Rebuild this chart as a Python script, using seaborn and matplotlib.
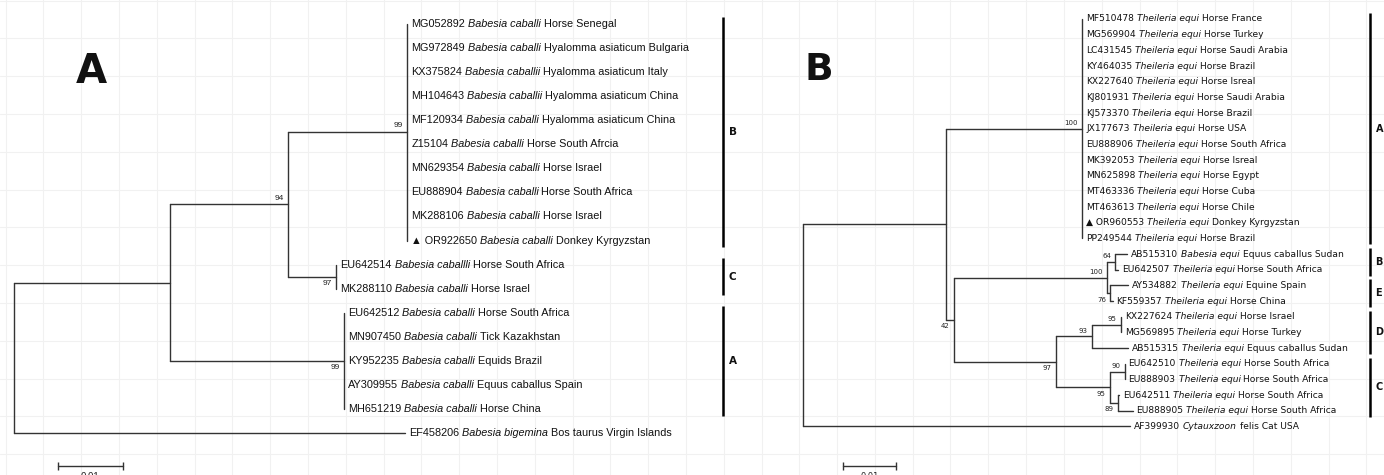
import pandas as pd
import matplotlib
matplotlib.use("Agg")
import matplotlib.pyplot as plt
import numpy as np
import seaborn as sns

# Set seaborn style
sns.set_theme(style="white")
plt.rcParams['font.family'] = ['Liberation Sans', 'DejaVu Sans']

W, H = 1384, 475
LINE = "#333333"
SCALE_LEN = 0.01

# --- Panel A: Babesia caballi (18S) ---
a_acc = ["MG052892", "MG972849", "KX375824", "MH104643", "MF120934", "Z15104",
         "MN629354", "EU888904", "MK288106", "OR922650", "EU642514", "MK288110",
         "EU642512", "MN907450", "KY952235", "AY309955", "MH651219", "EF458206"]
a_species = ["Babesia caballi", "Babesia caballi", "Babesia caballii", "Babesia caballii",
             "Babesia caballi", "Babesia caballi", "Babesia caballi", "Babesia caballi",
             "Babesia caballi", "Babesia caballi", "Babesia caballli", "Babesia caballi",
             "Babesia caballi", "Babesia caballi", "Babesia caballi", "Babesia caballi",
             "Babesia caballi", "Babesia bigemina"]
a_host = ["Horse Senegal", "Hyalomma asiaticum Bulgaria", "Hyalomma asiaticum Italy",
          "Hyalomma asiaticum China", "Hyalomma asiaticum China", "Horse South Afrcia",
          "Horse Israel", "Horse South Africa", "Horse Israel", "Donkey Kyrgyzstan",
          "Horse South Africa", "Horse Israel", "Horse South Africa", "Tick Kazakhstan",
          "Equids Brazil", "Equus caballus Spain", "Horse China", "Bos taurus Virgin Islands"]
a_newick = ("((((MG052892:0,MG972849:0,KX375824:0,MH104643:0,MF120934:0,Z15104:0,"
            "MN629354:0,EU888904:0,MK288106:0,OR922650:0)99:0.0183,"
            "(EU642514:0,MK288110:0)97:0.0074)94:0.0182,"
            "(EU642512:0,MN907450:0,KY952235:0,AY309955:0,MH651219:0)99:0.0268):0.0240,"
            "EF458206:0.0602);")
a_new_isolate = "OR922650"
a_clades = ["B", "C", "A"]
a_clade_tips = [("MG052892", "OR922650"), ("EU642514", "MK288110"), ("EU642512", "MH651219")]

# --- Panel B: Theileria equi (18S) ---
b_acc = ["MF510478", "MG569904", "LC431545", "KY464035", "KX227640", "KJ801931",
         "KJ573370", "JX177673", "EU888906", "MK392053", "MN625898", "MT463336",
         "MT463613", "OR960553", "PP249544", "AB515310", "EU642507", "AY534882",
         "KF559357", "KX227624", "MG569895", "AB515315", "EU642510", "EU888903",
         "EU642511", "EU888905", "AF399930"]
b_species = ["Theileria equi"] * 15 + ["Babesia equi"] + ["Theileria equi"] * 10 + ["Cytauxzoon"]
b_host = ["Horse France", "Horse Turkey", "Horse Saudi Arabia", "Horse Brazil", "Horse Isreal",
          "Horse Saudi Arabia", "Horse Brazil", "Horse USA", "Horse South Africa",
          "Horse Isreal", "Horse Egypt", "Horse Cuba", "Horse Chile", "Donkey Kyrgyzstan",
          "Horse Brazil", "Equus caballus Sudan", "Horse South Africa", "Equine Spain",
          "Horse China", "Horse Israel", "Horse Turkey", "Equus caballus Sudan",
          "Horse South Africa", "Horse South Africa", "Horse South Africa",
          "Horse South Africa", "felis Cat USA"]
b_newick = ("(((MF510478:0,MG569904:0,LC431545:0,KY464035:0,KX227640:0,KJ801931:0,"
            "KJ573370:0,JX177673:0,EU888906:0,MK392053:0,MN625898:0,MT463336:0,"
            "MT463613:0,OR960553:0,PP249544:0)100:0.0257,"
            "(((AB515310:0.0023,EU642507:0.0006)64:0.0015,"
            "(AY534882:0.0034,KF559357:0.0004)76:0.0006)100:0.0289,"
            "(((KX227624:0,MG569895:0)95:0.0055,AB515315:0.0068)93:0.0068,"
            "((EU642510:0,EU888903:0)90:0.0028,(EU642511:0.0002,EU888905:0.0028)89:0.0015)95:0.0102)97:0.0192)42:0.0015):0.0270,"
            "AF399930:0.0617);")
b_new_isolate = "OR960553"
b_clades = ["A", "B", "E", "D", "C"]
b_clade_tips = [("MF510478", "PP249544"), ("AB515310", "EU642507"), ("AY534882", "KF559357"),
                ("KX227624", "AB515315"), ("EU642510", "EU888905")]


def parse_newick(s):
    s = s.strip().rstrip(";")
    pos = 0

    def node():
        nonlocal pos
        kids = []
        if s[pos] == "(":
            pos += 1
            while True:
                kids.append(node())
                if s[pos] == ",":
                    pos += 1
                    continue
                pos += 1
                break
        start = pos
        while pos < len(s) and s[pos] not in ",():":
            pos += 1
        name = s[start:pos]
        length = 0.0
        if pos < len(s) and s[pos] == ":":
            pos += 1
            start = pos
            while pos < len(s) and s[pos] not in ",()":
                pos += 1
            length = float(s[start:pos])
        return {"name": name, "len": length, "kids": kids}

    return node()


def layout(tree):
    tips, segs, supports = [], [], []

    def walk(n, x0, upper):
        x = x0 + n["len"]
        if n["kids"]:
            ys = [walk(k, x, i == 0) for i, k in enumerate(n["kids"])]
            y = (ys[0] + ys[-1]) / 2
            segs.append((x, ys[0], x, ys[-1]))
            if n["name"]:
                supports.append((x, y, n["name"], upper))
        else:
            y = len(tips)
            tips.append((n["name"], x, y))
        if x > x0:
            segs.append((x0, y, x, y))
        return y

    walk(tree, 0.0, True)
    return tips, segs, supports


def panel_axes(fig, px0, px1, root_px, px_per_unit, row0_px, row_px):
    ax = fig.add_axes([px0 / W, 0, (px1 - px0) / W, 1])
    ax.set_xlim((px0 - root_px) / px_per_unit, (px1 - root_px) / px_per_unit)
    ax.set_ylim((H - row0_px) / row_px, (0 - row0_px) / row_px)
    ax.axis("off")
    to_x = lambda p: (p - root_px) / px_per_unit
    to_y = lambda p: (p - row0_px) / row_px
    return ax, to_x, to_y


def draw_tree(ax, newick, acc, species, host, new_isolate, clades, clade_tips,
              fam, tip_size, space_em, bs_size, clade_size, bar_x, bar_pad,
              scale_x, scale_y, scale_size):
    tips, segs, supports = layout(parse_newick(newick))
    sp = dict(zip(acc, species))
    ho = dict(zip(acc, host))
    xlim, ylim = ax.get_xlim(), ax.get_ylim()

    seg_df = pd.DataFrame([{"seg": i, "x": xx, "y": yy}
                           for i, (x0, y0, x1, y1) in enumerate(segs)
                           for xx, yy in ((x0, y0), (x1, y1))])
    sns.lineplot(data=seg_df, x="x", y="y", units="seg", estimator=None, sort=False,
                 color=LINE, lw=1.0, ax=ax, legend=False)

    space = tip_size * space_em
    for name, x, y in tips:
        first = ("\u25B2 " + name) if name == new_isolate else name
        t = ax.annotate(first, xy=(x, y), xytext=(2.8, 0), textcoords="offset points",
                        ha="left", va="center", family=fam, fontsize=tip_size, color="#111")
        for txt, style in ((sp[name], "italic"), (ho[name], "normal")):
            t = ax.annotate(txt, xy=(1, 0), xycoords=t, xytext=(space, 0),
                            textcoords="offset points", ha="left", va="bottom",
                            family=fam, fontsize=tip_size, style=style, color="#111")

    for x, y, lab, upper in supports:
        ax.annotate(lab, xy=(x, y), xytext=(-3, 2 if upper else -2.5), textcoords="offset points",
                    ha="right", va="bottom" if upper else "top", family=fam,
                    fontsize=bs_size, color="#222")

    row = {name: y for name, x, y in tips}
    for lab, (t0, t1) in zip(clades, clade_tips):
        y0, y1 = row[t0] - bar_pad, row[t1] + bar_pad
        ax.plot([bar_x, bar_x], [y0, y1], color="black", lw=1.8, solid_capstyle="butt")
        ax.annotate(lab, xy=(bar_x, (y0 + y1) / 2), xytext=(4, 0), textcoords="offset points",
                    ha="left", va="center", family="DejaVu Sans", fontweight="bold",
                    fontsize=clade_size, color="#111")

    # scale bar
    ax.plot([scale_x, scale_x + SCALE_LEN], [scale_y, scale_y], color=LINE, lw=1.0,
            marker="|", ms=6, mew=1.0)
    ax.annotate(f"{SCALE_LEN:g}", xy=(scale_x + SCALE_LEN / 2, scale_y), xytext=(0, -4.5),
                textcoords="offset points", ha="center", va="top", family=fam,
                fontsize=scale_size, color="#222")
    ax.set_xlim(xlim)
    ax.set_ylim(ylim)
    ax.axis("off")


fig = plt.figure(figsize=(W / 100, H / 100), dpi=100)

# faint background grid
bg = fig.add_axes([0, 0, 1, 1])
bg.set_xlim(0, W)
bg.set_ylim(H, 0)
bg.set_xticks(np.arange(5.5, W, 37.8))
bg.set_yticks(np.arange(0.5, H, 37.8))
bg.grid(True, color="#f1f1f1", lw=0.8)
bg.tick_params(length=0, labelbottom=False, labelleft=False)
for s in bg.spines.values():
    s.set_visible(False)

ax_a, ax_x, ax_y = panel_axes(fig, 0, 780, 14, 6500, 24, 24.06)
draw_tree(ax_a, a_newick, a_acc, a_species, a_host, a_new_isolate, a_clades, a_clade_tips,
          fam=["Liberation Sans", "DejaVu Sans"], tip_size=7.8, space_em=0.278, bs_size=6,
          clade_size=7.5, bar_x=ax_x(723), bar_pad=0.28,
          scale_x=ax_x(58), scale_y=ax_y(466), scale_size=7)

ax_b, bx_x, bx_y = panel_axes(fig, 780, W, 803, 5300, 19, 15.67)
draw_tree(ax_b, b_newick, b_acc, b_species, b_host, b_new_isolate, b_clades, b_clade_tips,
          fam=["DejaVu Sans"], tip_size=6.6, space_em=0.318, bs_size=5,
          clade_size=7, bar_x=bx_x(1370), bar_pad=0.38,
          scale_x=bx_x(843), scale_y=bx_y(466), scale_size=6)

# panel letters
fig.text(91 / W, 1 - 83 / H, "A", ha="center", va="baseline", fontsize=29,
         fontweight="bold", family="DejaVu Sans", color="#111")
fig.text(819 / W, 1 - 80 / H, "B", ha="center", va="baseline", fontsize=27,
         fontweight="bold", family="DejaVu Sans", color="#111")

fig.savefig("out.png", dpi=100, facecolor="white")
plt.close(fig)
